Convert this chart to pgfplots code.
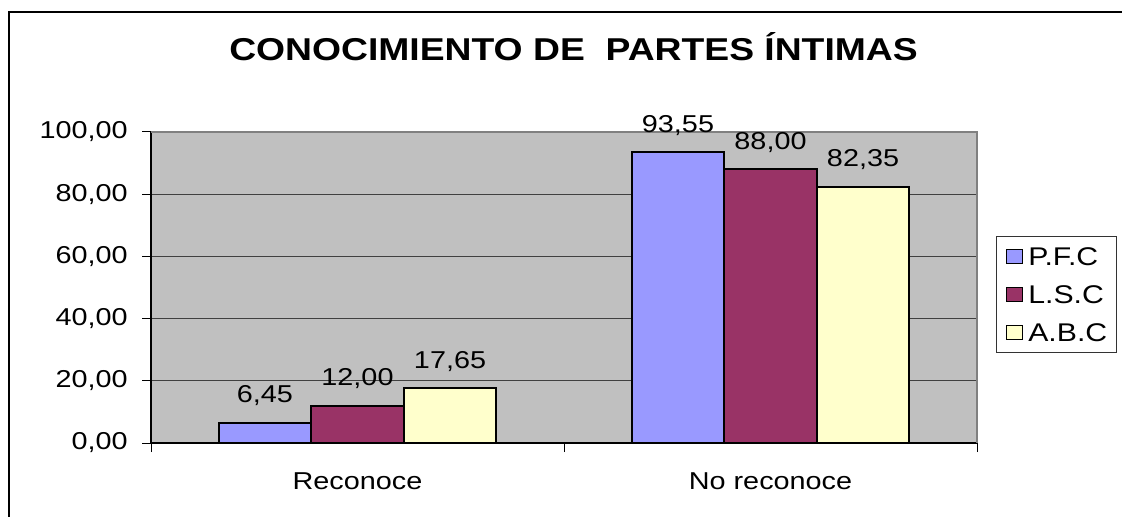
\documentclass[border=0pt]{standalone}
\usepackage{fontspec}
\setmainfont{Liberation Sans}[FakeStretch=1.18]
\usepackage{pgfplots}
\pgfplotsset{compat=1.18}
\definecolor{pfc}{HTML}{9999FF}
\definecolor{lsc}{HTML}{993366}
\definecolor{abc}{HTML}{FFFFCC}
\definecolor{plotbg}{HTML}{C0C0C0}
\definecolor{frame}{HTML}{808080}

\begin{document}
\begin{tikzpicture}[font=\fontsize{12.2}{14}\selectfont]
\useasboundingbox (0,0) rectangle (561pt,-258.5pt);
% chart frame (only top and left edges are visible)
\draw[line width=0.9pt] (4.5pt,-258.5pt) -- (4.5pt,-6pt) -- (561pt,-6pt);
\node[anchor=base, font=\fontsize{15.8}{19}\selectfont\bfseries] at (286.75pt,-30.5pt) {CONOCIMIENTO DE \ PARTES ÍNTIMAS};
\begin{axis}[
    at={(75.5pt,-221.5pt)}, anchor=south west,
    scale only axis, width=413pt, height=155.5pt,
    ybar, bar width=0.224,
    xmin=0.5, xmax=2.5, ymin=0, ymax=100,
    xtick={1,2}, xticklabels={Reconoce, No reconoce},
    minor xtick={0.5,1.5,2.5},
    ytick={0,20,...,100},
    axis x line*=bottom, axis y line*=left,
    axis line style={line width=0.6pt, -},
    tick align=outside, major tick length=4.5pt, minor tick length=4.5pt,
    major x tick style={draw=none},
    minor x tick style={draw=black, line width=0.5pt},
    major y tick style={draw=black, line width=0.5pt},
    ymajorgrids, grid style={black!75, line width=0.5pt},
    axis background/.style={fill=plotbg},
    xticklabel style={inner sep=0pt, yshift=-10pt},
    yticklabel style={inner sep=0pt, xshift=-7pt},
    /pgf/number format/fixed,
    /pgf/number format/fixed zerofill,
    /pgf/number format/precision=2,
    /pgf/number format/use comma,
    /pgf/number format/assume math mode=true,
    clip=false,
    nodes near coords,
    every node near coord/.append style={anchor=base, inner sep=0pt, yshift=10pt, black},
    legend style={at={(1,0.5)}, anchor=west, xshift=9.5pt, yshift=-3.5pt,
        draw=black!80, line width=0.5pt, inner xsep=4.5pt, inner ysep=5.5pt,
        column sep=2.5pt, row sep=10pt,
        font=\fontsize{12.8}{15}\selectfont,
        nodes={inner sep=0pt, text height=9pt, text depth=0pt}},
    legend cell align=left,
    legend image code/.code={\draw[#1] (0pt,-3.5pt) rectangle (8pt,3.5pt);},
]
\addplot[fill=pfc, draw=black, line width=0.9pt, bar shift=-0.224] coordinates {(1,6.45) (2,93.55)};
\addplot[fill=lsc, draw=black, line width=0.9pt, bar shift=0] coordinates {(1,12.00) (2,88.00)};
\addplot[fill=abc, draw=black, line width=0.9pt, bar shift=0.224] coordinates {(1,17.65) (2,82.35)};
\draw[frame, line width=1pt] (rel axis cs:0,1) -- (rel axis cs:1,1) -- (rel axis cs:1,0);
\legend{P.F.C, L.S.C, A.B.C}
\end{axis}
\end{tikzpicture}
\end{document}
